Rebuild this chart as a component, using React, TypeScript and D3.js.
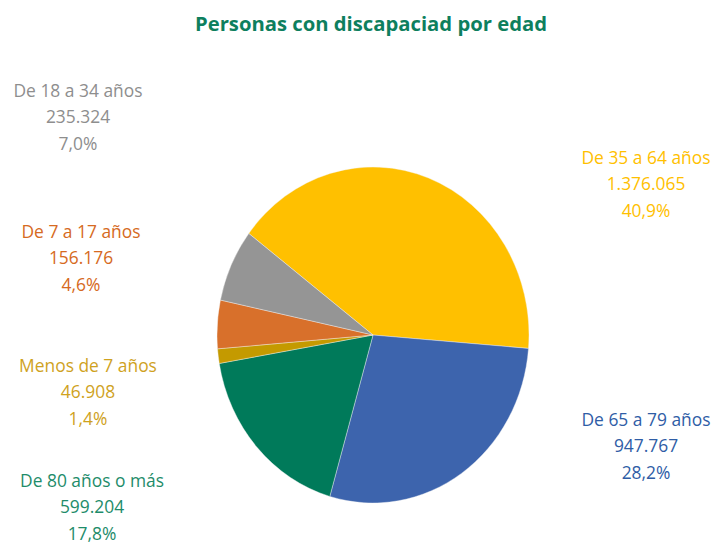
import React from "react";
import * as d3 from "d3";

const categories = [
  "De 35 a 64 años",
  "De 65 a 79 años",
  "De 80 años o más",
  "Menos de 7 años",
  "De 7 a 17 años",
  "De 18 a 34 años",
];
const values = [1376065, 947767, 599204, 46908, 156176, 235324];
const valueLabels = ["1.376.065", "947.767", "599.204", "46.908", "156.176", "235.324"];
const percentLabels = ["40,9%", "28,2%", "17,8%", "1,4%", "4,6%", "7,0%"];
const sliceColors = ["#FFC000", "#3D64AD", "#007A5A", "#C49A00", "#D8702B", "#959595"];
const labelColors = ["#FFC000", "#2F5DA6", "#1E8C6A", "#CFA21E", "#D66A22", "#8E8E8E"];
// label anchor (center x, first baseline y)
const labelPos: [number, number][] = [
  [646, 164],
  [646, 426],
  [92, 487],
  [88, 372],
  [81, 238],
  [78, 97],
];

const W = 716;
const H = 545;
const cx = 373;
const cy = 335;
const rx = 156;
const ry = 168;

export default function App() {
  const pie = d3
    .pie<number>()
    .sort(null)
    .value((d) => d)
    .startAngle((-52.8 * Math.PI) / 180)
    .endAngle((-52.8 * Math.PI) / 180 + 2 * Math.PI);
  const arcs = pie(values);
  const arc = d3.arc<d3.PieArcDatum<number>>().innerRadius(0).outerRadius(rx);
  const font = "'Open Sans', 'DejaVu Sans', sans-serif";

  return (
    <svg
      width={W}
      height={H}
      style={{ position: "absolute", left: 0, top: 0, background: "#fff" }}
    >
      <text
        x={371}
        y={31}
        textAnchor="middle"
        fontFamily={font}
        fontWeight="bold"
        fontSize={19}
        fill="#0E7F5E"
        textLength={352}
        lengthAdjust="spacingAndGlyphs"
      >
        Personas con discapaciad por edad
      </text>
      <g transform={`translate(${cx},${cy}) scale(1,${ry / rx})`}>
        {arcs.map((a, i) => (
          <path
            key={categories[i]}
            d={arc(a) as string}
            fill={sliceColors[i]}
            stroke="#f4f4f4"
            strokeWidth={0.4}
            vectorEffect="non-scaling-stroke"
          />
        ))}
      </g>
      {categories.map((c, i) => (
        <text
          key={c}
          x={labelPos[i][0]}
          y={labelPos[i][1]}
          textAnchor="middle"
          fontFamily={font}
          fontSize={17.4}
          fill={labelColors[i]}
        >
          <tspan x={labelPos[i][0]}>{c}</tspan>
          <tspan x={labelPos[i][0]} dy={26.3}>
            {valueLabels[i]}
          </tspan>
          <tspan x={labelPos[i][0]} dy={26.3}>
            {percentLabels[i]}
          </tspan>
        </text>
      ))}
    </svg>
  );
}
